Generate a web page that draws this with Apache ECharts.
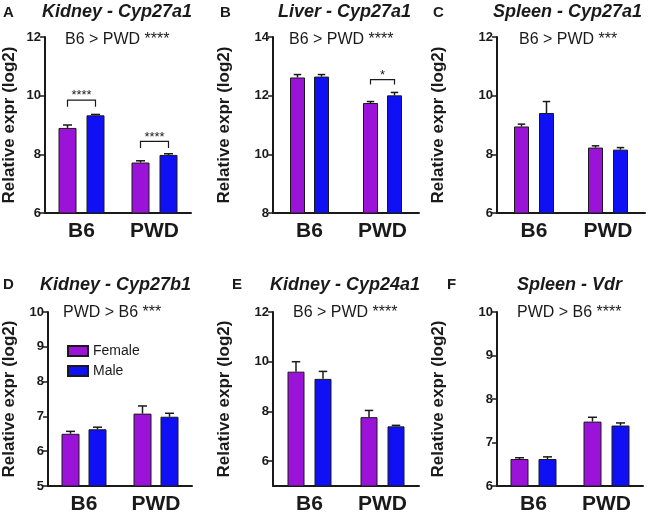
<!DOCTYPE html>
<html>
<head>
<meta charset="utf-8">
<script src="https://cdn.jsdelivr.net/npm/echarts@6/dist/echarts.min.js"></script>
<style>
  html, body { margin: 0; padding: 0; background: #fff; }
  #main { width: 649px; height: 515px; }
</style>
</head>
<body>
<div id="main"></div>
<script>
var categories = ['B6', 'PWD'];
var panelLetters = ['A', 'B', 'C', 'D', 'E', 'F'];
var panelTitles = ['Kidney - Cyp27a1', 'Liver - Cyp27a1', 'Spleen - Cyp27a1',
                   'Kidney - Cyp27b1', 'Kidney - Cyp24a1', 'Spleen - Vdr'];
var panelNotes = ['B6 > PWD ****', 'B6 > PWD ****', 'B6 > PWD ***',
                  'PWD > B6 ***', 'B6 > PWD ****', 'PWD > B6 ****'];

// means and SEM, one row per panel, [B6, PWD]
var femaleMean = [[8.90, 7.72], [12.62, 11.75], [8.95, 8.23], [6.50, 7.08], [9.60, 7.77], [6.62, 7.48]];
var femaleErr  = [[0.10, 0.06], [0.10, 0.05], [0.08, 0.06], [0.07, 0.22], [0.40, 0.27], [0.03, 0.10]];
var maleMean   = [[9.33, 7.98], [12.65, 12.01], [9.41, 8.16], [6.63, 6.99], [9.31, 7.40], [6.62, 7.39]];
var maleErr    = [[0.03, 0.04], [0.07, 0.10], [0.39, 0.07], [0.06, 0.10], [0.30, 0.04], [0.05, 0.06]];

// y axis ranges and tick labels
var yMin = [6, 8, 6, 5, 5, 6];
var yTicks = [[6, 8, 10, 12], [8, 10, 12, 14], [6, 8, 10, 12],
              [5, 6, 7, 8, 9, 10], [6, 8, 10, 12], [6, 7, 8, 9, 10]];

// sex comparison brackets: panel, category, top, foot, label
var brackets = [[0, 0, 9.85, 9.62, '****'], [0, 1, 8.44, 8.22, '****'], [1, 1, 12.55, 12.38, '*']];

var FONT = 'Liberation Sans, Arial, Helvetica, sans-serif';
var INK = '#1a1a1a';
var PURPLE = '#9b12d9';
var BLUE = '#1010f5';

var layout = [
    {left: 45,  top: 37,  width: 146, height: 176, bar: 18, gap: 10, nameGap: 27, letter: [3, 5],    title: [42, 3],    note: [65, 32]},
    {left: 273, top: 37,  width: 146, height: 176, bar: 15, gap: 9,  nameGap: 40, letter: [220, 5],  title: [278, 3],   note: [289, 32]},
    {left: 497, top: 37,  width: 148, height: 176, bar: 15, gap: 10, nameGap: 50, letter: [433, 5],  title: [493, 3],   note: [519, 32]},
    {left: 48,  top: 312, width: 144, height: 175, bar: 18, gap: 9,  nameGap: 30, letter: [3, 277],  title: [40, 276],  note: [63, 305]},
    {left: 273, top: 312, width: 146, height: 174, bar: 17, gap: 10, nameGap: 40, letter: [232, 277], title: [270, 276], note: [293, 305]},
    {left: 497, top: 312, width: 146, height: 174, bar: 18, gap: 10, nameGap: 50, letter: [447, 277], title: [517, 276], note: [517, 305]}
];

var myChart = echarts.init(document.getElementById('main'));

var grid = [], xAxis = [], yAxis = [], title = [], series = [];

function errRender(i) {
    var off = (layout[i].bar + layout[i].gap) / 2;
    var cap = layout[i].bar * 0.25;
    return function (params, api) {
        var c = api.value(0), m = api.value(1), e = api.value(2), s = api.value(3);
        var base = api.coord([c, m]);
        var top = api.coord([c, m + e]);
        var x = base[0] + s * off;
        var st = {stroke: INK, lineWidth: 1.5};
        return {
            type: 'group',
            children: [
                {type: 'line', shape: {x1: x, y1: base[1], x2: x, y2: top[1]}, style: st},
                {type: 'line', shape: {x1: x - cap, y1: top[1], x2: x + cap, y2: top[1]}, style: st}
            ]
        };
    };
}

function bracketRender(i, list) {
    var off = (layout[i].bar + layout[i].gap) / 2;
    return function (params, api) {
        var b = list[params.dataIndex];
        var hi = api.coord([b[1], b[2]]);
        var lo = api.coord([b[1], b[3]]);
        var x1 = hi[0] - off, x2 = hi[0] + off;
        return {
            type: 'group',
            children: [
                {type: 'polyline', shape: {points: [[x1, lo[1]], [x1, hi[1]], [x2, hi[1]], [x2, lo[1]]]},
                 style: {stroke: INK, lineWidth: 1.2, fill: null}},
                {type: 'text', style: {text: b[4], x: hi[0], y: hi[1] + 2, align: 'center', verticalAlign: 'bottom',
                 font: '13px ' + FONT, fill: INK}}
            ]
        };
    };
}

for (var i = 0; i < 6; i++) {
    var L = layout[i];
    grid.push({left: L.left, top: L.top, width: L.width, height: L.height});
    xAxis.push({
        type: 'category', gridIndex: i, data: categories,
        axisLine: {lineStyle: {color: INK, width: 2}},
        axisTick: {alignWithLabel: true, length: 5, lineStyle: {color: INK, width: 1.5}},
        axisLabel: {color: INK, fontFamily: FONT, fontWeight: 'bold', fontSize: 21, margin: 8}
    });
    var ticks = yTicks[i];
    yAxis.push({
        type: 'value', gridIndex: i, min: yMin[i], max: ticks[ticks.length - 1],
        name: 'Relative expr (log2)', nameLocation: 'middle', nameGap: L.nameGap,
        nameTextStyle: {color: INK, fontFamily: FONT, fontWeight: 'bold', fontSize: 17},
        splitLine: {show: false},
        axisLine: {show: true, lineStyle: {color: INK, width: 2}},
        axisTick: {show: true, length: 5, customValues: ticks, lineStyle: {color: INK, width: 1.5}},
        axisLabel: {color: INK, fontFamily: FONT, fontWeight: 'bold', fontSize: 13, margin: 4, customValues: ticks}
    });
    title.push({text: panelLetters[i], left: L.letter[0], top: L.letter[1], padding: 0,
        textStyle: {color: INK, fontFamily: FONT, fontWeight: 'bold', fontSize: 15}});
    title.push({text: panelTitles[i], left: L.title[0], top: L.title[1], padding: 0,
        textStyle: {color: INK, fontFamily: FONT, fontWeight: 'bold', fontStyle: 'italic', fontSize: 18}});
    title.push({text: panelNotes[i], left: L.note[0], top: L.note[1], padding: 0,
        textStyle: {color: INK, fontFamily: FONT, fontWeight: 'normal', fontSize: 16}});

    series.push({
        name: 'Female', type: 'bar', xAxisIndex: i, yAxisIndex: i,
        barWidth: L.bar, barGap: (L.gap / L.bar * 100) + '%',
        data: femaleMean[i],
        itemStyle: {color: PURPLE, borderColor: INK, borderWidth: 1}
    });
    series.push({
        name: 'Male', type: 'bar', xAxisIndex: i, yAxisIndex: i,
        barWidth: L.bar,
        data: maleMean[i],
        itemStyle: {color: BLUE, borderColor: INK, borderWidth: 1}
    });

    var errData = [];
    for (var c = 0; c < categories.length; c++) {
        errData.push([c, femaleMean[i][c], femaleErr[i][c], -1]);
        errData.push([c, maleMean[i][c], maleErr[i][c], 1]);
    }
    series.push({
        name: 'sem', type: 'custom', xAxisIndex: i, yAxisIndex: i, z: 5,
        renderItem: errRender(i), encode: {x: 0, y: 1}, data: errData, silent: true
    });

    var bl = brackets.filter(function (b) { return b[0] === i; });
    if (bl.length) {
        series.push({
            name: 'sig', type: 'custom', xAxisIndex: i, yAxisIndex: i, z: 5, clip: false,
            renderItem: bracketRender(i, bl),
            encode: {x: 0, y: 1},
            data: bl.map(function (b) { return [b[1], b[2]]; }), silent: true
        });
    }
}

var option = {
    backgroundColor: '#fff',
    animation: false,
    title: title,
    legend: {
        data: ['Female', 'Male'], orient: 'vertical', left: 62, top: 339,
        itemWidth: 20, itemHeight: 10, itemGap: 6, icon: 'rect', selectedMode: false,
        textStyle: {color: INK, fontFamily: FONT, fontSize: 14}
    },
    grid: grid,
    xAxis: xAxis,
    yAxis: yAxis,
    series: series
};

myChart.setOption(option);
</script>
</body>
</html>
